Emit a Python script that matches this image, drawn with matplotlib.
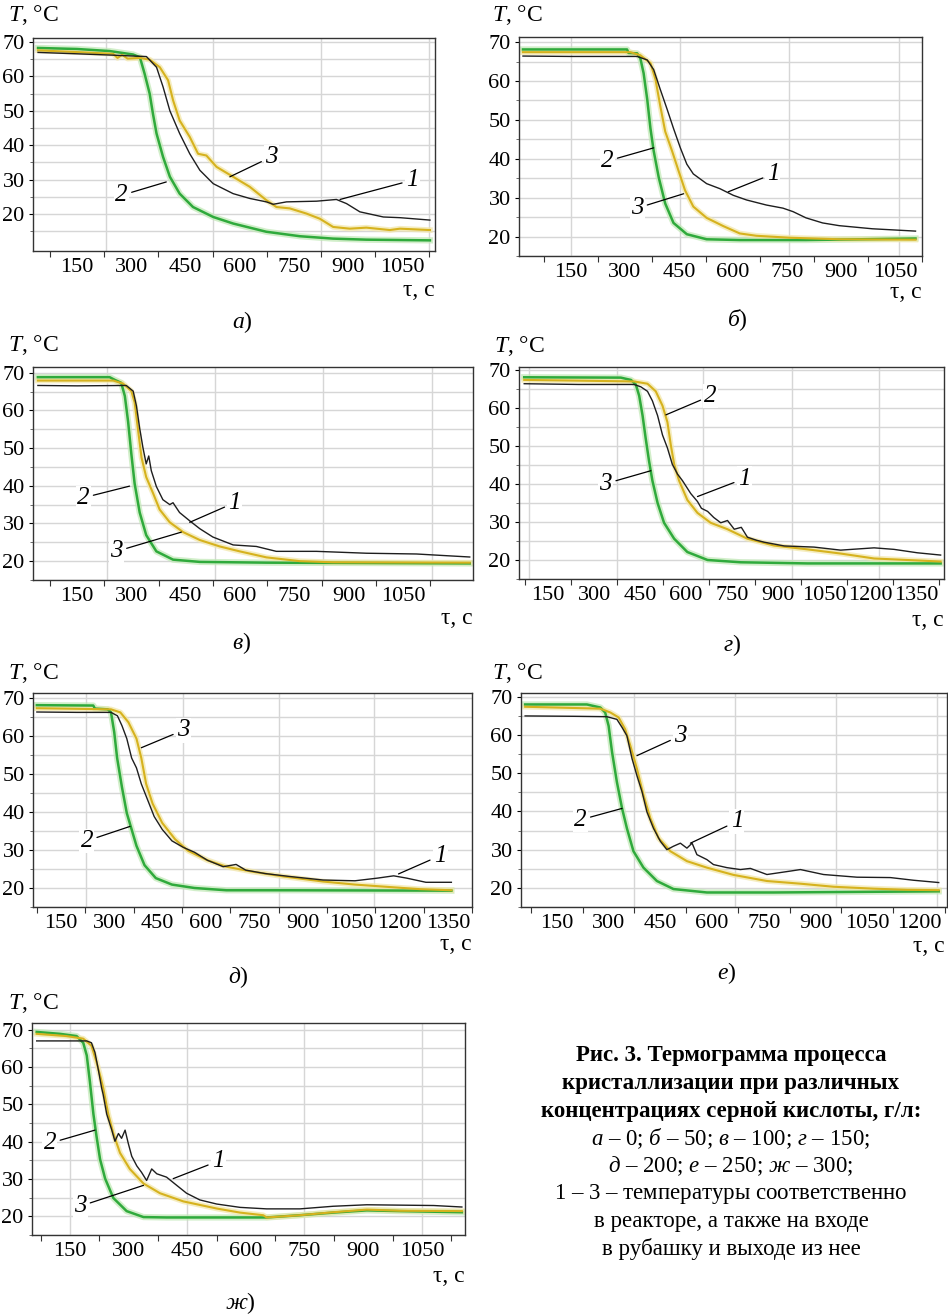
import matplotlib.pyplot as plt

plt.rcParams['font.family'] = ['Liberation Serif', 'DejaVu Serif']
plt.rcParams['mathtext.fontset'] = 'custom'
plt.rcParams['mathtext.it'] = 'Liberation Serif:italic'
plt.rcParams['mathtext.rm'] = 'Liberation Serif'

# ---- data (time, s / temperature, °C) ----
# a) 0 g/l
a_t1 = [42, 150, 250, 342, 370, 388, 407, 434, 462, 490, 527, 582, 628, 674, 693, 730, 813, 868, 896, 933, 998, 1044, 1127]
a_T1 = [67.0, 66.6, 66.2, 65.8, 62.7, 57.0, 50.0, 43.4, 37.5, 32.7, 28.8, 25.9, 24.5, 23.5, 22.8, 23.5, 23.7, 24.2, 23.0, 20.6, 19.1, 18.9, 18.2]
a_t2 = [42, 150, 240, 305, 324, 337, 351, 360, 370, 388, 407, 434, 471, 527, 582, 674, 767, 859, 951, 1127]
a_T2 = [68.3, 68.0, 67.4, 66.4, 65.6, 60.8, 55.0, 49.2, 43.4, 36.6, 30.8, 25.9, 22.0, 19.1, 17.2, 14.8, 13.5, 12.8, 12.5, 12.3]
a_t3 = [42, 150, 250, 262, 275, 290, 324, 351, 379, 402, 416, 434, 462, 485, 508, 536, 582, 628, 674, 702, 739, 785, 822, 859, 905, 951, 1016, 1044, 1127]
a_T3 = [67.6, 67.1, 66.6, 65.4, 66.3, 65.2, 65.4, 64.9, 62.7, 58.9, 53.0, 47.2, 42.4, 37.5, 37.0, 33.7, 30.8, 27.9, 24.0, 22.0, 21.6, 20.1, 18.6, 16.2, 15.7, 16.0, 15.3, 15.7, 15.3]

# б) 50 g/l
b_t1 = [17, 150, 334, 362, 380, 398, 417, 435, 454, 472, 490, 527, 564, 601, 638, 693, 739, 767, 803, 849, 895, 987, 1107]
b_T1 = [66.4, 66.3, 66.3, 65.4, 62.9, 57.9, 52.8, 47.8, 42.8, 38.6, 36.1, 33.6, 32.3, 30.6, 29.4, 28.1, 27.3, 26.4, 24.8, 23.5, 22.8, 22.0, 21.4]
b_t2 = [17, 306, 310, 334, 343, 352, 362, 371, 380, 394, 412, 435, 472, 527, 619, 803, 1107]
b_T2 = [68.1, 68.1, 67.2, 67.1, 65.8, 62.0, 55.3, 47.8, 42.0, 35.2, 28.5, 23.5, 20.6, 19.3, 19.1, 19.1, 19.5]
b_t3 = [17, 315, 343, 371, 385, 398, 412, 431, 449, 467, 490, 527, 573, 619, 665, 757, 895, 1107]
b_T3 = [67.4, 67.4, 66.6, 64.6, 60.4, 53.7, 47.0, 42.0, 36.9, 31.9, 27.7, 24.8, 22.7, 20.8, 20.2, 19.7, 19.3, 19.2]

# в) 100 g/l
c_t1 = [42, 150, 286, 305, 314, 323, 332, 341, 348, 355, 369, 387, 406, 415, 433, 461, 489, 525, 581, 645, 700, 811, 949, 1087, 1160, 1234]
c_T1 = [66.6, 66.5, 66.6, 65.1, 61.2, 55.2, 50.1, 45.8, 47.9, 44.0, 39.8, 36.3, 35.0, 35.5, 32.9, 30.7, 28.6, 26.4, 24.3, 23.9, 22.6, 22.6, 22.1, 21.9, 21.5, 21.1]
c_t2 = [42, 240, 254, 272, 282, 291, 300, 309, 323, 341, 369, 415, 489, 673, 1234]
c_T2 = [68.8, 68.8, 68.1, 67.3, 63.8, 57.0, 48.4, 40.6, 32.9, 26.9, 22.6, 20.4, 19.8, 19.6, 19.4]
c_t3 = [42, 250, 277, 300, 309, 318, 328, 341, 360, 378, 406, 443, 489, 544, 599, 673, 765, 857, 1234]
c_T3 = [67.9, 67.9, 67.1, 65.1, 62.1, 55.2, 47.5, 42.3, 38.0, 33.7, 30.3, 27.7, 25.6, 23.9, 22.6, 21.0, 20.0, 19.7, 19.6]

# г) 150 g/l
d_t1 = [72, 250, 430, 452, 474, 490, 507, 523, 539, 555, 572, 588, 615, 637, 650, 670, 690, 713, 735, 757, 780, 800, 830, 854, 920, 1017, 1104, 1213, 1278, 1354, 1430]
d_T1 = [66.4, 66.2, 66.2, 65.6, 64.4, 61.9, 58.0, 52.9, 49.5, 45.2, 42.6, 40.9, 37.5, 35.4, 33.6, 32.8, 31.2, 29.8, 30.4, 28.1, 28.6, 26.0, 25.2, 24.7, 23.7, 23.4, 22.6, 23.2, 22.8, 21.9, 21.3]
d_t2 = [72, 387, 420, 436, 447, 458, 468, 479, 490, 507, 528, 561, 604, 670, 778, 996, 1430]
d_T2 = [68.1, 68.0, 67.4, 66.2, 63.2, 58.0, 52.1, 46.1, 40.9, 35.0, 29.8, 25.6, 22.1, 20.0, 19.4, 19.1, 19.1]
d_t3 = [72, 430, 474, 501, 523, 539, 550, 561, 577, 604, 637, 680, 735, 800, 887, 996, 1104, 1213, 1322, 1430]
d_T3 = [67.4, 67.0, 66.4, 64.4, 60.6, 56.3, 50.3, 45.2, 40.9, 35.8, 32.4, 29.8, 28.1, 25.6, 23.8, 22.8, 21.7, 20.4, 20.0, 19.6]

# д) 200 g/l
e_t1 = [75, 200, 305, 325, 339, 354, 369, 384, 399, 419, 439, 464, 494, 529, 564, 604, 653, 693, 723, 783, 863, 963, 1062, 1132, 1182, 1222, 1282, 1361]
e_T1 = [66.3, 66.2, 66.2, 65.3, 62.7, 59.3, 54.2, 51.6, 47.4, 43.1, 38.8, 35.4, 32.4, 30.7, 29.4, 27.3, 25.6, 26.2, 24.7, 23.8, 23.0, 22.1, 21.9, 22.6, 23.2, 22.6, 21.5, 21.5]
e_t2 = [75, 250, 255, 295, 305, 315, 324, 339, 354, 369, 384, 409, 444, 494, 564, 663, 863, 1361]
e_T2 = [68.1, 68.0, 67.2, 67.0, 66.2, 61.0, 54.2, 46.5, 39.7, 35.4, 31.1, 26.0, 22.6, 20.9, 20.0, 19.4, 19.4, 19.3]
e_t3 = [75, 305, 334, 359, 384, 399, 414, 434, 464, 504, 544, 604, 663, 743, 843, 963, 1062, 1162, 1262, 1361]
e_T3 = [67.3, 67.0, 66.2, 63.6, 59.3, 54.2, 47.4, 42.2, 37.1, 32.8, 29.8, 27.3, 25.6, 24.3, 23.0, 21.7, 20.9, 20.3, 19.7, 19.4]

# е) 250 g/l
f_t1 = [58, 200, 295, 324, 339, 353, 368, 382, 397, 411, 430, 450, 469, 488, 508, 527, 542, 556, 585, 604, 643, 682, 711, 759, 827, 856, 923, 1020, 1117, 1184, 1257]
f_T1 = [65.0, 64.9, 64.8, 64.1, 62.0, 59.8, 53.8, 49.4, 45.1, 39.9, 35.6, 32.2, 30.0, 30.9, 31.7, 30.4, 31.7, 28.7, 27.4, 26.1, 25.3, 24.8, 25.1, 23.5, 24.4, 24.8, 23.5, 22.8, 22.7, 22.0, 21.4]
f_t2 = [58, 237, 276, 290, 300, 310, 324, 339, 353, 372, 401, 440, 488, 585, 778, 1257]
f_T2 = [68.0, 68.0, 67.2, 65.9, 62.4, 55.5, 47.7, 40.8, 35.6, 29.6, 25.3, 21.8, 19.7, 18.8, 18.8, 19.1]
f_t3 = [58, 276, 305, 329, 348, 363, 382, 401, 421, 445, 479, 527, 585, 662, 759, 856, 952, 1068, 1165, 1257]
f_T3 = [67.4, 66.9, 65.9, 64.6, 61.5, 57.2, 51.2, 44.3, 38.2, 33.0, 29.6, 27.0, 25.3, 23.4, 21.8, 21.1, 20.3, 19.8, 19.5, 19.4]

# ж) 300 g/l
g_t1 = [65, 193, 205, 214, 222, 231, 235, 244, 257, 265, 274, 282, 291, 299, 308, 321, 333, 346, 359, 372, 397, 423, 448, 482, 525, 585, 653, 738, 823, 909, 994, 1080, 1152]
g_T1 = [67.0, 67.0, 66.5, 63.9, 59.6, 54.4, 52.6, 47.4, 43.1, 40.1, 42.2, 40.9, 43.1, 39.6, 36.1, 33.5, 31.8, 29.6, 32.7, 31.4, 30.5, 28.3, 26.2, 24.4, 23.3, 22.4, 22.0, 22.0, 22.7, 23.1, 23.0, 22.9, 22.5]
g_t2 = [65, 124, 167, 184, 193, 201, 210, 218, 227, 240, 261, 295, 338, 397, 525, 653, 738, 823, 909, 994, 1152]
g_T2 = [69.4, 68.9, 68.3, 66.5, 63.1, 56.1, 47.4, 41.4, 35.3, 30.1, 24.9, 21.4, 19.8, 19.7, 19.7, 19.7, 20.3, 21.0, 21.6, 21.4, 21.1]
g_t3 = [65, 141, 184, 205, 218, 227, 235, 248, 261, 278, 303, 338, 380, 440, 525, 585, 644, 653, 738, 823, 909, 994, 1152]
g_T3 = [68.9, 68.3, 67.6, 65.7, 61.3, 57.8, 54.4, 47.4, 42.2, 37.0, 32.7, 28.8, 26.2, 24.0, 22.1, 21.0, 20.3, 19.7, 20.3, 21.1, 21.8, 21.5, 21.4]

ticks_1050 = [150, 300, 450, 600, 750, 900, 1050]
ticks_1200 = ticks_1050 + [1200]
ticks_1350 = ticks_1200 + [1350]

caption_bold = ["Рис. 3. Термограмма процесса",
                "кристаллизации при различных",
                "концентрациях серной кислоты, г/л:"]
caption_rest = [r"$\mathit{а}$ – 0; $\mathit{б}$ – 50; $\mathit{в}$ – 100; $\mathit{г}$ – 150;",
                r"$\mathit{д}$ – 200; $\mathit{е}$ – 250; $\mathit{ж}$ – 300;",
                r"$\mathit{1}$ – $\mathit{3}$ – температуры соответственно",
                "в реакторе, а также на входе",
                "в рубашку и выходе из нее"]

BLACK = '#1e1e1e'
GREEN = '#2faa3c'
YELLOW = '#d6b21e'

# box in pixels (left, top, right, bottom), text anchors in pixels
panels = [
    dict(box=(33, 38, 435, 251), xlim=(28, 1141), ylim=(9.2, 71.2), xt=ticks_1050,
         vgrid=[229, 527, 826, 1125], data=(a_t1, a_T1, a_t2, a_T2, a_t3, a_T3),
         notes=[('3', (573, 30.8), (688, 36.6)), ('1', (878, 24.2), (1078, 29.8)),
                ('2', (397, 29.3), (273, 25.4))],
         letter='а', letter_xy=(242, 322), T_xy=(8, 15), tau_xy=(435, 290)),
    dict(box=(519, 37, 922, 256), xlim=(6, 1119), ylim=(16.2, 71.3), xt=ticks_1050,
         vgrid=[150, 452, 755, 1062], data=(b_t1, b_T1, b_t2, b_T2, b_t3, b_T3),
         notes=[('2', (380, 42.8), (251, 39.4)), ('3', (463, 31.0), (334, 27.3)),
                ('1', (587, 31.5), (711, 36.1))],
         letter='б', letter_xy=(737, 320), T_xy=(492, 15), tau_xy=(922, 293)),
    dict(box=(33, 367, 473, 580), xlim=(28.5, 1243), ylim=(16.6, 71.5), xt=ticks_1050,
         vgrid=[232, 532, 830, 1130], data=(c_t1, c_T1, c_t2, c_T2, c_t3, c_T3),
         notes=[('2', (295, 39.9), (167, 36.8)), ('1', (461, 30.3), (585, 35.5)),
                ('3', (438, 27.7), (259, 22.6))],
         letter='в', letter_xy=(242, 643), T_xy=(8, 345), tau_xy=(473, 618)),
    dict(box=(519, 367, 944, 579), xlim=(55, 1441), ylim=(16.4, 70.8), xt=ticks_1350,
         vgrid=[88, 375, 655, 946, 1229], data=(d_t1, d_T1, d_t2, d_T2, d_t3, d_T3),
         notes=[('2', (534, 58.2), (680, 63.2)), ('1', (637, 36.7), (789, 41.4)),
                ('3', (485, 43.5), (338, 40.1))],
         letter='г', letter_xy=(732, 645), T_xy=(494, 346), tau_xy=(944, 620)),
    dict(box=(33, 693, 472, 907), xlim=(63, 1376), ylim=(16.4, 71.3), xt=ticks_1350,
         vgrid=[228, 527, 825, 1122], data=(e_t1, e_T1, e_t2, e_T2, e_t3, e_T3),
         notes=[('3', (399, 56.9), (529, 61.5)), ('2', (364, 36.2), (230, 32.4)),
                ('1', (1197, 23.7), (1326, 28.5))],
         letter='д', letter_xy=(238, 977), T_xy=(8, 673), tau_xy=(472, 944)),
    dict(box=(521, 693, 947, 907), xlim=(46, 1281), ylim=(15.6, 71.0), xt=ticks_1200,
         vgrid=[373, 665, 959, 1252], data=(f_t1, f_T1, f_t2, f_T2, f_t3, f_T3),
         notes=[('3', (382, 54.6), (508, 59.8)), ('2', (339, 40.8), (218, 37.8)),
                ('1', (537, 31.7), (672, 37.4))],
         letter='е', letter_xy=(727, 973), T_xy=(492, 673), tau_xy=(945, 947)),
    dict(box=(32, 1023, 465, 1235), xlim=(53, 1160), ylim=(16.6, 71.8), xt=ticks_1050,
         vgrid=[150, 449, 748, 1050], data=(g_t1, g_T1, g_t2, g_T2, g_t3, g_T3),
         notes=[('2', (214, 43.1), (99, 39.6)), ('1', (414, 30.1), (529, 34.8)),
                ('3', (338, 28.3), (176, 22.7))],
         letter='ж', letter_xy=(240, 1303), T_xy=(8, 1003), tau_xy=(465, 1277)),
]

W, H = 948, 1316
fig = plt.figure(figsize=(W / 100, H / 100), dpi=100)


def fx(x):
    return x / W


def fy(y):
    return 1 - y / H


for p in panels:
    l, t, r, b = p['box']
    ax = fig.add_axes([fx(l), fy(b), (r - l) / W, (b - t) / H])
    ax.set_xlim(*p['xlim'])
    ax.set_ylim(*p['ylim'])

    # grid
    for v in p['vgrid']:
        ax.axvline(v, color='#d6d6d6', lw=1.0, zorder=0)
    for h in range(15, 71, 5):
        ax.axhline(h, color='#d6d6d6', lw=1.0, zorder=0)

    t1, T1, t2, T2, t3, T3 = p['data']
    ax.plot(t2, T2, color='#bfe8b4', lw=4.5, alpha=0.7, solid_joinstyle='round', zorder=1)
    ax.plot(t3, T3, color='#f2e6a6', lw=4.0, alpha=0.7, solid_joinstyle='round', zorder=1)
    ax.plot(t2, T2, color=GREEN, lw=1.8, zorder=2)
    ax.plot(t3, T3, color=YELLOW, lw=1.5, zorder=3)
    ax.plot(t1, T1, color=BLACK, lw=1.0, zorder=4)

    for txt, xy, xyt in p['notes']:
        ax.annotate(txt, xy=xy, xytext=xyt, fontsize=18, fontstyle='italic',
                    ha='center', va='center', zorder=5,
                    bbox=dict(boxstyle='square,pad=0.05', fc='white', ec='none'),
                    arrowprops=dict(arrowstyle='-', color='black', lw=0.9,
                                    shrinkA=2, shrinkB=0))

    ax.set_xticks(p['xt'])
    ax.set_xticklabels([str(v) for v in p['xt']])
    ax.set_xticks([v - 75 for v in p['xt']] + [p['xt'][-1] + 75], minor=True)
    ax.tick_params(axis='x', which='major', length=0, pad=5, labelsize=16)
    ax.tick_params(axis='x', which='minor', length=4, width=0.8, color='#333333')
    ax.set_yticks([20, 30, 40, 50, 60, 70])
    ax.set_yticks(range(15, 71, 5), minor=True)
    ax.tick_params(axis='y', which='major', length=3, pad=3, labelsize=16)
    ax.tick_params(axis='y', which='minor', length=2, width=0.6, color='#555555')
    for s in ax.spines.values():
        s.set_color('#333333')
        s.set_linewidth(1.0)

    fig.text(fx(p['T_xy'][0]), fy(p['T_xy'][1]), '$T$, °C', fontsize=17,
             ha='left', va='center')
    fig.text(fx(p['tau_xy'][0]), fy(p['tau_xy'][1]), 'τ, с', fontsize=17,
             ha='right', va='center')
    fig.text(fx(p['letter_xy'][0]), fy(p['letter_xy'][1]),
             r'$\mathit{' + p['letter'] + '}$)', fontsize=17, ha='center', va='center')

cy = 1056
for line in caption_bold:
    fig.text(fx(731), fy(cy), line, fontsize=16.5, fontweight='bold', ha='center', va='center')
    cy += 27.5
for line in caption_rest:
    fig.text(fx(731), fy(cy), line, fontsize=16.5, ha='center', va='center')
    cy += 27.5

fig.savefig('out.png', dpi=100)
